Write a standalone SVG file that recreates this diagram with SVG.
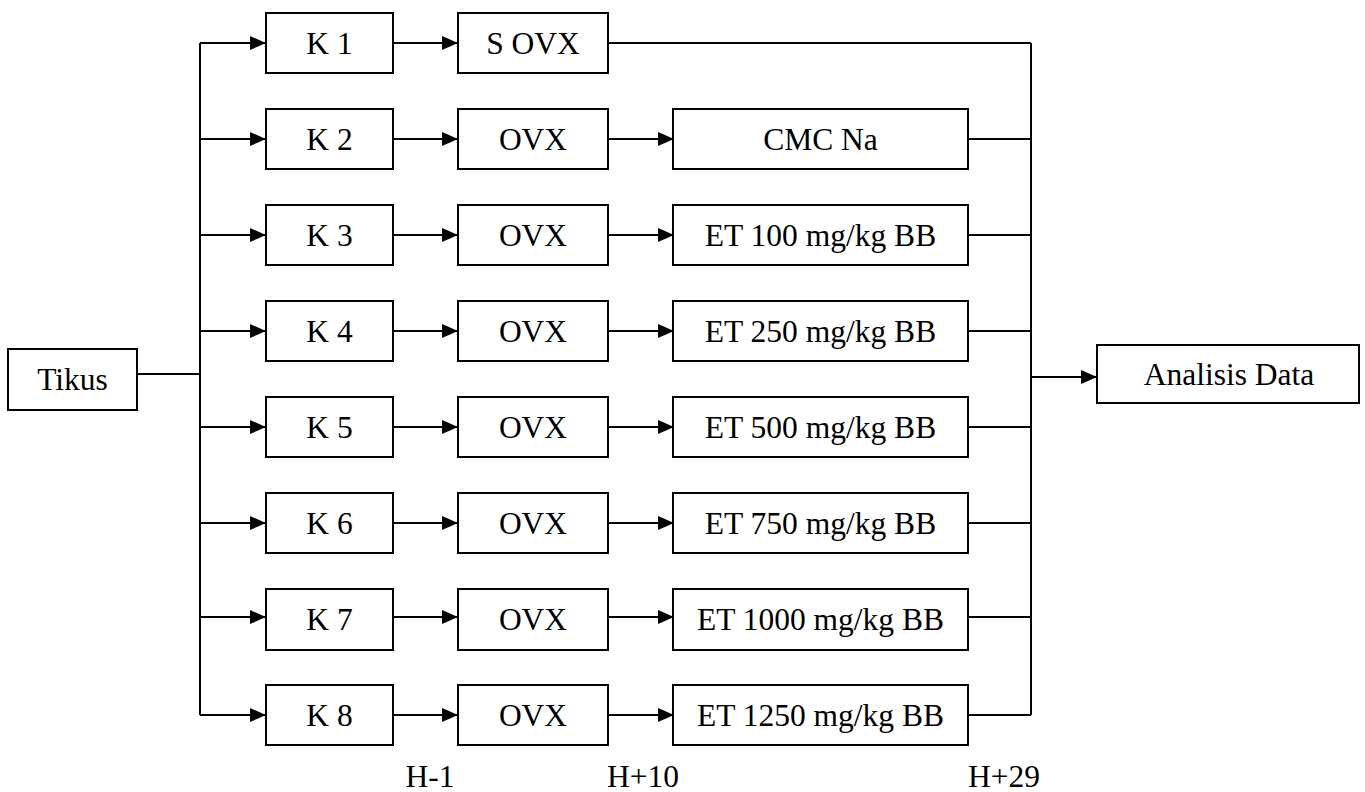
<svg xmlns="http://www.w3.org/2000/svg" width="1365" height="792" viewBox="0 0 1365 792">
<style>
.b{fill:#fff;stroke:#000;stroke-width:2}
.t{font-family:'Liberation Serif','DejaVu Serif','Times New Roman',serif;font-size:31.5px;fill:#000;text-anchor:middle}
.c{fill:none;stroke:#000;stroke-width:2}
</style>
<defs>
<marker id="a" markerWidth="16" markerHeight="14" refX="15" refY="7" orient="auto" markerUnits="userSpaceOnUse">
<path d="M0,0 L16,7 L0,14 Z" fill="#000"/>
</marker>
</defs>
<rect width="1365" height="792" fill="#fff"/>
<g id="connectors">
<path class="c" d="M137,374 H200"/>
<path class="c" d="M200,43 V715"/>
<path class="c" d="M1031,43 V715"/>
<path class="c" d="M200,43 H265" marker-end="url(#a)"/>
<path class="c" d="M200,139 H265" marker-end="url(#a)"/>
<path class="c" d="M200,235 H265" marker-end="url(#a)"/>
<path class="c" d="M200,331 H265" marker-end="url(#a)"/>
<path class="c" d="M200,427 H265" marker-end="url(#a)"/>
<path class="c" d="M200,523 H265" marker-end="url(#a)"/>
<path class="c" d="M200,617 H265" marker-end="url(#a)"/>
<path class="c" d="M200,715 H265" marker-end="url(#a)"/>
<path class="c" d="M393,43 H457" marker-end="url(#a)"/>
<path class="c" d="M393,139 H457" marker-end="url(#a)"/>
<path class="c" d="M393,235 H457" marker-end="url(#a)"/>
<path class="c" d="M393,331 H457" marker-end="url(#a)"/>
<path class="c" d="M393,427 H457" marker-end="url(#a)"/>
<path class="c" d="M393,523 H457" marker-end="url(#a)"/>
<path class="c" d="M393,617 H457" marker-end="url(#a)"/>
<path class="c" d="M393,715 H457" marker-end="url(#a)"/>
<path class="c" d="M608,139 H673" marker-end="url(#a)"/>
<path class="c" d="M608,235 H673" marker-end="url(#a)"/>
<path class="c" d="M608,331 H673" marker-end="url(#a)"/>
<path class="c" d="M608,427 H673" marker-end="url(#a)"/>
<path class="c" d="M608,523 H673" marker-end="url(#a)"/>
<path class="c" d="M608,617 H673" marker-end="url(#a)"/>
<path class="c" d="M608,715 H673" marker-end="url(#a)"/>
<path class="c" d="M608,43 H1031"/>
<path class="c" d="M968,139 H1031"/>
<path class="c" d="M968,235 H1031"/>
<path class="c" d="M968,331 H1031"/>
<path class="c" d="M968,427 H1031"/>
<path class="c" d="M968,523 H1031"/>
<path class="c" d="M968,617 H1031"/>
<path class="c" d="M968,715 H1031"/>
<path class="c" d="M1031,377 H1096" marker-end="url(#a)"/>
</g>
<g id="tikus"><rect class="b" x="8" y="349" width="129" height="61"/><text class="t" x="72.5" y="390">Tikus</text></g>
<g id="analisis"><rect class="b" x="1097" y="345" width="262" height="58"/><text class="t" x="1229" y="385">Analisis Data</text></g>
<g id="k1"><rect class="b" x="266" y="13" width="127" height="60"/><text class="t" x="329.5" y="54">K 1</text></g>
<g id="k2"><rect class="b" x="266" y="109" width="127" height="60"/><text class="t" x="329.5" y="150">K 2</text></g>
<g id="k3"><rect class="b" x="266" y="205" width="127" height="60"/><text class="t" x="329.5" y="246">K 3</text></g>
<g id="k4"><rect class="b" x="266" y="301" width="127" height="60"/><text class="t" x="329.5" y="342">K 4</text></g>
<g id="k5"><rect class="b" x="266" y="397" width="127" height="60"/><text class="t" x="329.5" y="438">K 5</text></g>
<g id="k6"><rect class="b" x="266" y="493" width="127" height="60"/><text class="t" x="329.5" y="534">K 6</text></g>
<g id="k7"><rect class="b" x="266" y="589" width="127" height="61"/><text class="t" x="329.5" y="630">K 7</text></g>
<g id="k8"><rect class="b" x="266" y="685" width="127" height="60"/><text class="t" x="329.5" y="726">K 8</text></g>
<g id="sovx"><rect class="b" x="458" y="13" width="150" height="60"/><text class="t" x="533" y="54">S OVX</text></g>
<g id="ovx2"><rect class="b" x="458" y="109" width="150" height="60"/><text class="t" x="533" y="150">OVX</text></g>
<g id="ovx3"><rect class="b" x="458" y="205" width="150" height="60"/><text class="t" x="533" y="246">OVX</text></g>
<g id="ovx4"><rect class="b" x="458" y="301" width="150" height="60"/><text class="t" x="533" y="342">OVX</text></g>
<g id="ovx5"><rect class="b" x="458" y="397" width="150" height="60"/><text class="t" x="533" y="438">OVX</text></g>
<g id="ovx6"><rect class="b" x="458" y="493" width="150" height="60"/><text class="t" x="533" y="534">OVX</text></g>
<g id="ovx7"><rect class="b" x="458" y="589" width="150" height="61"/><text class="t" x="533" y="630">OVX</text></g>
<g id="ovx8"><rect class="b" x="458" y="685" width="150" height="60"/><text class="t" x="533" y="726">OVX</text></g>
<g id="cmc"><rect class="b" x="673" y="109" width="295" height="60"/><text class="t" x="820.5" y="150">CMC Na</text></g>
<g id="et100"><rect class="b" x="673" y="205" width="295" height="60"/><text class="t" x="820.5" y="246">ET 100 mg/kg BB</text></g>
<g id="et250"><rect class="b" x="673" y="301" width="295" height="60"/><text class="t" x="820.5" y="342">ET 250 mg/kg BB</text></g>
<g id="et500"><rect class="b" x="673" y="397" width="295" height="60"/><text class="t" x="820.5" y="438">ET 500 mg/kg BB</text></g>
<g id="et750"><rect class="b" x="673" y="493" width="295" height="60"/><text class="t" x="820.5" y="534">ET 750 mg/kg BB</text></g>
<g id="et1000"><rect class="b" x="673" y="589" width="295" height="61"/><text class="t" x="820.5" y="630">ET 1000 mg/kg BB</text></g>
<g id="et1250"><rect class="b" x="673" y="685" width="295" height="60"/><text class="t" x="820.5" y="726">ET 1250 mg/kg BB</text></g>
<g id="labels">
<text class="t" x="430" y="787">H-1</text>
<text class="t" x="643" y="787">H+10</text>
<text class="t" x="1004" y="787">H+29</text>
</g>
</svg>
